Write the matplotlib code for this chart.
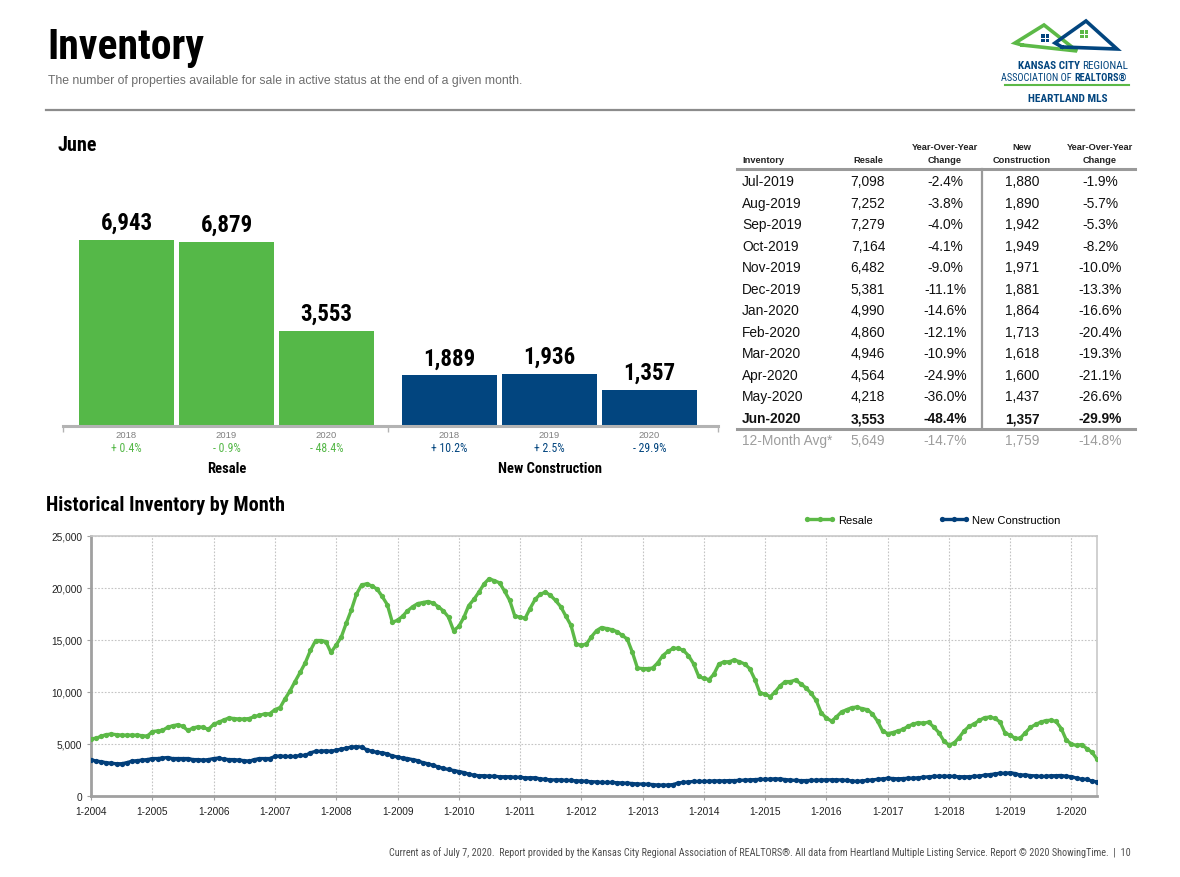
import matplotlib
matplotlib.use('Agg')
import matplotlib.pyplot as plt
import matplotlib.font_manager as fm
import matplotlib.ticker as mticker
from matplotlib.lines import Line2D
from matplotlib.patches import Rectangle
import pandas as pd

# ---------------- data ----------------
bar_years = ['2018', '2019', '2020']
resale_june = [6943, 6879, 3553]
resale_june_chg = ['+ 0.4%', '- 0.9%', '- 48.4%']
newcon_june = [1889, 1936, 1357]
newcon_june_chg = ['+ 10.2%', '+ 2.5%', '- 29.9%']
bar_groups = ['Resale', 'New Construction']

table_months = ['Jul-2019', 'Aug-2019', 'Sep-2019', 'Oct-2019', 'Nov-2019', 'Dec-2019',
                'Jan-2020', 'Feb-2020', 'Mar-2020', 'Apr-2020', 'May-2020', 'Jun-2020']
table_resale = [7098, 7252, 7279, 7164, 6482, 5381, 4990, 4860, 4946, 4564, 4218, 3553]
table_resale_chg = ['-2.4%', '-3.8%', '-4.0%', '-4.1%', '-9.0%', '-11.1%', '-14.6%', '-12.1%',
                    '-10.9%', '-24.9%', '-36.0%', '-48.4%']
table_newcon = [1880, 1890, 1942, 1949, 1971, 1881, 1864, 1713, 1618, 1600, 1437, 1357]
table_newcon_chg = ['-1.9%', '-5.7%', '-5.3%', '-8.2%', '-10.0%', '-13.3%', '-16.6%', '-20.4%',
                    '-19.3%', '-21.1%', '-26.6%', '-29.9%']
avg_row = ['12-Month Avg*', '5,649', '-14.7%', '1,759', '-14.8%']

hist_start = '2004-01-01'
hist_resale = [
    5500, 5550, 5750, 5900, 5950, 5900, 5850, 5850, 5850, 5850, 5800, 5750,          # 2004
    6200, 6250, 6300, 6600, 6750, 6850, 6700, 6300, 6550, 6650, 6600, 6400,          # 2005
    6900, 7100, 7300, 7500, 7450, 7400, 7400, 7450, 7650, 7750, 7900, 7900,          # 2006
    8300, 8500, 9300, 10100, 11000, 11900, 12800, 14000, 14950, 14950, 14850, 13800,  # 2007
    14500, 15300, 16600, 17900, 19400, 20300, 20400, 20200, 19900, 19200, 18400, 16700,  # 2008
    16900, 17300, 17800, 18200, 18500, 18600, 18700, 18550, 18200, 17800, 17200, 15900,  # 2009
    16300, 17200, 18300, 18900, 19600, 20400, 20900, 20700, 20500, 19700, 18800, 17300,  # 2010
    17200, 17100, 18000, 18900, 19400, 19600, 19300, 18800, 18200, 17300, 16400, 14600,  # 2011
    14500, 14600, 15300, 15900, 16200, 16100, 16000, 15800, 15450, 15100, 13800, 12300,  # 2012
    12250, 12250, 12300, 12800, 13500, 13900, 14200, 14200, 14000, 13500, 12700, 11500,  # 2013
    11300, 11200, 11700, 12700, 12900, 12900, 13100, 12900, 12700, 12250, 11200, 9900,   # 2014
    9800, 9550, 10000, 10600, 11000, 11000, 11150, 10800, 10400, 9900, 9200, 8000,       # 2015
    7500, 7200, 7600, 8100, 8300, 8500, 8550, 8400, 8300, 7900, 7200, 6250,              # 2016
    6000, 6100, 6250, 6400, 6700, 6915, 7050, 7000, 7100, 6650, 6100, 5300,              # 2017
    4900, 5100, 5600, 6250, 6700, 6943, 7273, 7538, 7582, 7470, 7123, 6053,              # 2018
    5843, 5529, 5551, 6077, 6591, 6879, 7098, 7252, 7279, 7164, 6482, 5381,              # 2019
    4990, 4860, 4946, 4564, 4218, 3553,                                                  # 2020
]
hist_newcon = [
    3500, 3350, 3300, 3200, 3150, 3100, 3100, 3200, 3350, 3400, 3450, 3500,   # 2004
    3600, 3600, 3650, 3700, 3600, 3600, 3600, 3600, 3500, 3500, 3450, 3500,   # 2005
    3600, 3650, 3550, 3500, 3500, 3450, 3400, 3350, 3500, 3600, 3600, 3600,   # 2006
    3800, 3850, 3800, 3800, 3800, 3900, 3900, 4150, 4300, 4300, 4350, 4300,   # 2007
    4400, 4500, 4600, 4700, 4750, 4700, 4450, 4300, 4200, 4150, 4050, 3850,   # 2008
    3750, 3650, 3600, 3500, 3400, 3200, 3100, 2950, 2800, 2650, 2550, 2450,   # 2009
    2350, 2250, 2100, 2000, 1950, 1950, 1900, 1900, 1850, 1850, 1850, 1800,   # 2010
    1800, 1750, 1750, 1750, 1650, 1600, 1550, 1550, 1550, 1500, 1500, 1450,   # 2011
    1450, 1400, 1380, 1350, 1300, 1300, 1300, 1270, 1250, 1230, 1200, 1150,   # 2012
    1150, 1120, 1100, 1050, 1050, 1050, 1100, 1250, 1300, 1350, 1400, 1400,   # 2013
    1400, 1420, 1450, 1450, 1450, 1480, 1480, 1500, 1520, 1550, 1580, 1600,   # 2014
    1600, 1620, 1650, 1630, 1580, 1530, 1500, 1480, 1480, 1500, 1520, 1540,   # 2015
    1550, 1560, 1550, 1550, 1500, 1450, 1400, 1450, 1500, 1550, 1600, 1650,   # 2016
    1700, 1680, 1650, 1680, 1700, 1714, 1750, 1800, 1850, 1880, 1900, 1900,   # 2017
    1900, 1880, 1850, 1850, 1850, 1889, 1916, 2004, 2051, 2123, 2190, 2170,   # 2018
    2235, 2152, 2005, 2028, 1958, 1936, 1880, 1890, 1942, 1949, 1971, 1881,   # 2019
    1864, 1713, 1618, 1600, 1437, 1357,                                       # 2020
]
hist_ticks = list(range(0, 25001, 5000))

# ---------------- style ----------------
W, H = 1180, 878
names = {f.name for f in fm.fontManager.ttflist}
NARROW = next((n for n in ['Liberation Sans Narrow', 'Arial Narrow', 'Roboto Condensed',
                           'Open Sans Condensed'] if n in names), 'Liberation Sans')
REG = 'Liberation Sans'
GREEN = '#55b848'
NAVY = '#02457f'
LGREEN = '#5cb947'
LNAVY = '#023f7a'

fig = plt.figure(figsize=(W / 100, H / 100), dpi=100)
fig.patch.set_facecolor('white')


def rect(x0, y0, x1, y1):
    return [x0 / W, 1 - y1 / H, (x1 - x0) / W, (y1 - y0) / H]


def ftext(x, y, s, **kw):
    return fig.text(x / W, 1 - y / H, s, **kw)


def fline(x0, y0, x1, y1, **kw):
    fig.add_artist(Line2D([x0 / W, x1 / W], [1 - y0 / H, 1 - y1 / H], **kw))


# ---------------- header ----------------
ftext(47, 59, 'Inventory', family=NARROW, weight='bold', size=30, va='baseline', color='black')
ftext(48, 84, 'The number of properties available for sale in active status at the end of a given month.',
      family=REG, size=8.8, va='baseline', color='#6d6d6d')
fline(46, 111, 1134, 111, color='#8c8c8c', lw=1.6)

# logo
lax = fig.add_axes(rect(1000, 15, 1150, 110))
lax.set_xlim(1000, 1150)
lax.set_ylim(110, 15)
lax.axis('off')
lax.plot([1022, 1015, 1044, 1077, 1022], [46, 44, 26, 52, 46], color=LGREEN, lw=2.6,
         solid_joinstyle='miter')
lax.plot([1062, 1055, 1086, 1117, 1062], [48, 44, 22, 50, 48], color=NAVY, lw=2.6,
         solid_joinstyle='miter')
for (wx, wy, c) in [(1041, 35, NAVY), (1080, 31, LGREEN)]:
    for dx in (0, 4.5):
        for dy in (0, 4.5):
            lax.add_patch(Rectangle((wx + dx, wy + dy), 3.6, 3.6, color=c, lw=0))
lax.text(1080, 69, 'KANSAS CITY', family=NARROW, weight='bold', size=8, color=NAVY,
         ha='right', va='baseline')
lax.text(1082, 69, 'REGIONAL', family=NARROW, size=8, color=NAVY, ha='left', va='baseline')
lax.text(1072, 81, 'ASSOCIATION OF', family=NARROW, size=7.4, color=NAVY, ha='right', va='baseline')
lax.text(1074, 81, 'REALTORS®', family=NARROW, weight='bold', size=7.4, color=NAVY, ha='left',
         va='baseline')
lax.plot([1005, 1129], [86, 86], color=LGREEN, lw=1.5)
lax.text(1068, 102, 'HEARTLAND MLS', family=NARROW, weight='bold', size=8.2, color=NAVY,
         ha='center', va='baseline')

# ---------------- June bar chart ----------------
ftext(58, 151, 'June', family=NARROW, weight='bold', size=14.5, va='baseline')

bax = fig.add_axes(rect(63, 150, 718, 427))
bw = 0.955
g2 = 3.23
xpos = [0, 1, 2, g2, g2 + 1, g2 + 2]
vals = resale_june + newcon_june
cols = [GREEN] * 3 + [NAVY] * 3
bax.bar(xpos, vals, width=bw, color=cols, linewidth=0)
bax.set_xlim(-0.635, 5.915)
bax.set_ylim(0, 6943 * 277 / 186)
for s in ['top', 'right', 'left']:
    bax.spines[s].set_visible(False)
bax.spines['bottom'].set_color('#b3b3b3')
bax.spines['bottom'].set_linewidth(2.2)
bax.set_yticks([])
bax.set_xticks([-0.635, (2 + g2) / 2, 5.915])
bax.set_xticklabels([])
bax.tick_params(axis='x', length=4, width=1, color='#b3b3b3', direction='out')

for x, v in zip(xpos, vals):
    bax.annotate(f'{v:,}', (x, v), xytext=(0, 8), textcoords='offset points',
                 ha='center', va='baseline', family=NARROW, weight='bold', size=16.5)
chg = resale_june_chg + newcon_june_chg
for i, (x, c) in enumerate(zip(xpos, chg)):
    bax.annotate(bar_years[i % 3], (x, 0), xytext=(0, -6.3), textcoords='offset points',
                 ha='center', va='center', family=REG, size=6.8, color='#808080')
    bax.annotate(c, (x, 0), xytext=(0, -15.8), textcoords='offset points',
                 ha='center', va='center', family=NARROW, size=8.5,
                 color=GREEN if i < 3 else NAVY)
for gx, gl in zip([1, g2 + 1], bar_groups):
    bax.annotate(gl, (gx, 0), xytext=(0, -30.5), textcoords='offset points',
                 ha='center', va='center', family=NARROW, weight='bold', size=10.5)

# ---------------- table ----------------
hdr_kw = dict(family=REG, weight='bold', size=6.7, va='baseline', color='#222222')
ftext(945, 150, 'Year-Over-Year', ha='center', **hdr_kw)
ftext(1022, 150, 'New', ha='center', **hdr_kw)
ftext(1100, 150, 'Year-Over-Year', ha='center', **hdr_kw)
ftext(742, 163, 'Inventory', ha='left', **hdr_kw)
ftext(868, 163, 'Resale', ha='center', **hdr_kw)
ftext(945, 163, 'Change', ha='center', **hdr_kw)
ftext(1022, 163, 'Construction', ha='center', **hdr_kw)
ftext(1100, 163, 'Change', ha='center', **hdr_kw)
fline(737, 169.5, 1135, 169.5, color='#9a9a9a', lw=2.2)
fline(737, 429.5, 1135, 429.5, color='#9a9a9a', lw=2.2)
fline(982, 170, 982, 429, color='#9a9a9a', lw=1.6)

for i, m in enumerate(table_months):
    y = 182 + i * 21.55
    bold = 'bold' if i == len(table_months) - 1 else 'normal'
    kw = dict(family=REG, size=9.9, va='center', weight=bold, color='#111111')
    ftext(742, y, m, ha='left', **kw)
    ftext(868, y, f'{table_resale[i]:,}', ha='center', **kw)
    ftext(945, y, table_resale_chg[i], ha='center', **kw)
    ftext(1022, y, f'{table_newcon[i]:,}', ha='center', **kw)
    ftext(1100, y, table_newcon_chg[i], ha='center', **kw)
akw = dict(family=REG, size=9.9, va='center', color='#9d9d9d')
ftext(742, 441, avg_row[0], ha='left', **akw)
for cx, s in zip([868, 945, 1022, 1100], avg_row[1:]):
    ftext(cx, 441, s, ha='center', **akw)

# ---------------- historical line chart ----------------
ftext(46, 511, 'Historical Inventory by Month', family=NARROW, weight='bold', size=14.5,
      va='baseline')

dates = pd.date_range(hist_start, periods=len(hist_resale), freq='MS')
hax = fig.add_axes(rect(91, 537, 1097, 797))
hax.plot(dates, hist_resale, color=LGREEN, lw=2.4, marker='o', ms=3.8, mew=0,
         label='Resale', zorder=3)
hax.plot(dates, hist_newcon, color=LNAVY, lw=2.4, marker='o', ms=3.8, mew=0,
         label='New Construction', zorder=3)
hax.set_xlim(dates[0], dates[-1])
hax.set_ylim(0, 25000)
hax.set_yticks(hist_ticks)
hax.yaxis.set_major_formatter(mticker.FuncFormatter(lambda v, p: f'{int(v):,}'))
years = pd.date_range('2004-01-01', '2020-01-01', freq='YS')
hax.set_xticks(years)
hax.set_xticklabels([f'1-{d.year}' for d in years])
hax.grid(True, color='#c4c4c4', lw=0.8, linestyle=(0, (1.5, 1.5)))
hax.set_axisbelow(True)
for s in ['left', 'bottom']:
    hax.spines[s].set_color('#a0a0a0')
    hax.spines[s].set_linewidth(2)
for s in ['top', 'right']:
    hax.spines[s].set_color('#c8c8c8')
    hax.spines[s].set_linewidth(1.2)
hax.tick_params(axis='both', labelsize=7.3, length=3, color='#a0a0a0', labelcolor='#222222')
hax.tick_params(axis='x', pad=4)
for lbl in hax.get_xticklabels() + hax.get_yticklabels():
    lbl.set_family(REG)

leg = hax.legend(loc='center left', bbox_to_anchor=(804 / W, 1 - 521 / H),
                 bbox_transform=fig.transFigure, ncol=2, frameon=False,
                 prop={'family': REG, 'size': 8}, handlelength=2.8, handletextpad=0.25,
                 columnspacing=5.9, borderpad=0, borderaxespad=0, numpoints=3)

# ---------------- footer ----------------
ftext(1131, 856, 'Current as of July 7, 2020.  Report provided by the Kansas City Regional Association of '
      'REALTORS®. All data from Heartland Multiple Listing Service. Report © 2020 ShowingTime.  |  10',
      family=NARROW, size=7.3, ha='right', va='baseline', color='#4d4d4d')

fig.savefig('out.png', dpi=100, facecolor='white')
